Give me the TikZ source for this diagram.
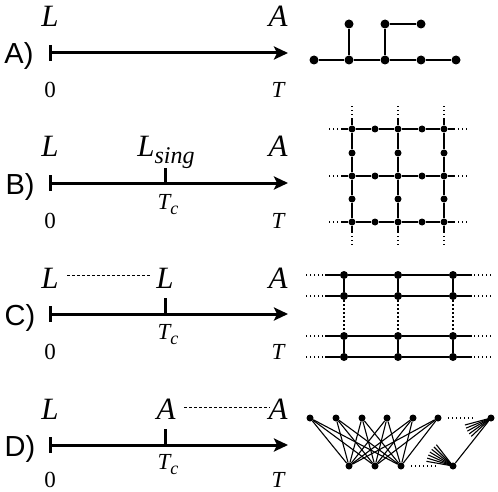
\documentclass[tikz,border=0pt]{standalone}
\usepackage{fontspec}
\setmainfont{Liberation Serif}
\newfontfamily\lsans{Liberation Sans}
\usetikzlibrary{arrows.meta}
\begin{document}
\begin{tikzpicture}[x=1pt,y=-1pt,
 dotA/.style={circle,fill=black,inner sep=0pt,minimum size=9pt},
 dotB/.style={circle,fill=black,inner sep=0pt,minimum size=7pt},
 dotC/.style={circle,fill=black,inner sep=0pt,minimum size=8pt},
 dotD/.style={circle,fill=black,inner sep=0pt,minimum size=7pt},
 edge/.style={line width=1.6pt},
 thinedge/.style={line width=1.1pt},
 dots/.style={line width=1.4pt,dash pattern=on 1.4pt off 2.6pt},
 timeaxis/.style={line width=3pt,-{Stealth[length=14pt,width=13pt,inset=3pt]}},
 tickmark/.style={line width=3pt},
 gap/.style={line width=0.9pt,dash pattern=on 3pt off 2pt},
 big/.style={font=\fontsize{31}{31}\selectfont\itshape,inner sep=0pt,anchor=base},
 small/.style={font=\fontsize{23}{23}\selectfont,inner sep=0pt,anchor=base},
 rowlab/.style={font=\lsans\fontsize{29}{29}\selectfont,inner sep=0pt,anchor=base},
 ]
\useasboundingbox[fill=white] (0,0) rectangle (498,492);

% ---------------- Row A ----------------
\coordinate (a0) at (50,53);
\coordinate (aT) at (288,53);
\node[rowlab] (labA) at (19,64) {A)};
\draw[timeaxis] (a0) -- (aT);
\draw[tickmark] (50,45) -- (50,61);
\node[big] (aL) at (50,27) {L};
\node[big] (aA) at (278,27) {A};
\node[small] (azero) at (50,98) {0};
\node[small] (aTT) at (278,98) {\itshape T};

% graph A
\foreach \n/\x in {1/314,2/349,3/385,4/421,5/456}
  \node[dotA] (ga\n) at (\x,60) {};
\foreach \n/\x in {1/349,2/385,3/421}
  \node[dotA] (ta\n) at (\x,24) {};
\draw[edge] (ga1) -- (ga2) -- (ga3) -- (ga4) -- (ga5);
\draw[edge] (ga2) -- (ta1);
\draw[edge] (ga3) -- (ta2) -- (ta3);

% ---------------- Row B ----------------
\coordinate (b0) at (50,183);
\coordinate (bT) at (288,183);
\node[rowlab] (labB) at (20,194) {B)};
\draw[timeaxis] (b0) -- (bT);
\draw[tickmark] (50,175) -- (50,191);
\draw[tickmark] (165,183) -- (165,168);
\node[big] (bL) at (50,157) {L};
\node[big] (bLs) at (166,157) {L\raisebox{-7pt}{\fontsize{24}{24}\selectfont sing}};
\node[big] (bA) at (278,157) {A};
\node[small] (bTc) at (168,209) {\itshape T\raisebox{-5pt}{\fontsize{18}{18}\selectfont c}};
\node[small] (bzero) at (50,228) {0};
\node[small] (bTT) at (278,228) {\itshape T};

% graph B : grid
\foreach \i/\x in {0/352,1/375,2/398,3/422,4/444}
  \foreach \j/\y in {0/129,1/153,2/176,3/199,4/222}
    \coordinate (p\i\j) at (\x,\y);
\foreach \i in {0,2,4} \foreach \j in {0,2,4} \node[dotB] (b\i\j) at (p\i\j) {};
\foreach \i in {1,3} \foreach \j in {0,2,4} \node[dotB] (b\i\j) at (p\i\j) {};
\foreach \i in {0,2,4} \foreach \j in {1,3} \node[dotB] (b\i\j) at (p\i\j) {};
\foreach \j in {0,2,4} {
  \draw[edge] (b0\j) -- (b1\j) -- (b2\j) -- (b3\j) -- (b4\j);
  \coordinate (hl\j) at ([xshift=-10pt]p0\j);
  \coordinate (hL\j) at ([xshift=-23pt]p0\j);
  \coordinate (hr\j) at ([xshift=10pt]p4\j);
  \coordinate (hR\j) at ([xshift=23pt]p4\j);
  \draw[edge] (b0\j) -- (hl\j);
  \draw[dots] (hl\j) -- (hL\j);
  \draw[edge] (b4\j) -- (hr\j);
  \draw[dots] (hr\j) -- (hR\j);
}
\foreach \i in {0,2,4} {
  \draw[edge] (b\i0) -- (b\i1) -- (b\i2) -- (b\i3) -- (b\i4);
  \coordinate (vt\i) at ([yshift=10pt]p\i0);
  \coordinate (vT\i) at ([yshift=24pt]p\i0);
  \coordinate (vb\i) at ([yshift=-10pt]p\i4);
  \coordinate (vB\i) at ([yshift=-25pt]p\i4);
  \draw[edge] (b\i0) -- (vt\i);
  \draw[dots] (vt\i) -- (vT\i);
  \draw[edge] (b\i4) -- (vb\i);
  \draw[dots] (vb\i) -- (vB\i);
}

% ---------------- Row C ----------------
\coordinate (c0) at (50,314);
\coordinate (cT) at (288,314);
\node[rowlab] (labC) at (20,325) {C)};
\draw[timeaxis] (c0) -- (cT);
\draw[tickmark] (50,306) -- (50,322);
\draw[tickmark] (165,314) -- (165,298);
\node[big] (cL) at (50,288) {L};
\node[big] (cL2) at (165,288) {L};
\node[big] (cA) at (278,288) {A};
\coordinate (cg1) at (67,275);
\coordinate (cg2) at (150,275);
\draw[gap] (cg1) -- (cg2);
\node[small] (cTc) at (168,339) {\itshape T\raisebox{-5pt}{\fontsize{18}{18}\selectfont c}};
\node[small] (czero) at (50,359) {0};
\node[small] (cTT) at (278,359) {\itshape T};

% graph C : ladders
\foreach \i/\x in {1/344,2/398,3/453}
  \foreach \j/\y in {1/275,2/296,3/336,4/357}
    \node[dotC] (c\i\j) at (\x,\y) {};
\foreach \j/\y in {1/275,2/296,3/336,4/357} {
  \coordinate (cl\j) at (325,\y);
  \coordinate (cL\j) at (306,\y);
  \coordinate (cr\j) at (472,\y);
  \coordinate (cR\j) at (492,\y);
  \draw[edge] (cl\j) -- (c1\j) -- (c2\j) -- (c3\j) -- (cr\j);
  \draw[dots] ([xshift=-2pt]cl\j) -- (cL\j);
  \draw[dots] ([xshift=2pt]cr\j) -- (cR\j);
}
\foreach \i in {1,2,3} {
  \draw[edge] (c\i1) -- (c\i2);
  \draw[edge] (c\i3) -- (c\i4);
  \draw[dots] (c\i2) -- (c\i3);
}

% ---------------- Row D ----------------
\coordinate (d0) at (50,445);
\coordinate (dT) at (288,445);
\node[rowlab] (labD) at (20,456) {D)};
\draw[timeaxis] (d0) -- (dT);
\draw[tickmark] (50,437) -- (50,453);
\draw[tickmark] (165,445) -- (165,429);
\node[big] (dL) at (50,419) {L};
\node[big] (dA1) at (166,419) {A};
\node[big] (dA2) at (278,419) {A};
\coordinate (dg1) at (184,407);
\coordinate (dg2) at (270,407);
\draw[gap] (dg1) -- (dg2);
\node[small] (dTc) at (168,469) {\itshape T\raisebox{-5pt}{\fontsize{18}{18}\selectfont c}};
\node[small] (dzero) at (50,487) {0};
\node[small] (dTT) at (278,487) {\itshape T};

% graph D : bipartite
\foreach \n/\x in {1/310,2/336,3/362,4/387,5/413,6/438,7/491}
  \node[dotD] (u\n) at (\x,418) {};
\foreach \n/\x in {1/349,2/375,3/401,4/453}
  \node[dotD] (v\n) at (\x,466) {};
\foreach \a in {1,...,6}
  \foreach \b in {1,2,3}
    \draw[thinedge] (u\a) -- (v\b);
\draw[thinedge] (u7) -- (v4);
\foreach \ang in {137,144,151,158,165}
  \draw[thinedge] (u7.center) -- ++(\ang:27);
\foreach \ang in {190,197,204,211,218,225,232}
  \draw[thinedge] (v4.center) -- ++(\ang:27);
\coordinate (du1) at (448,418);
\coordinate (du2) at (475,418);
\coordinate (dv1) at (411,466);
\coordinate (dv2) at (437,466);
\draw[dots] (du1) -- (du2);
\draw[dots] (dv1) -- (dv2);
\end{tikzpicture}
\end{document}
